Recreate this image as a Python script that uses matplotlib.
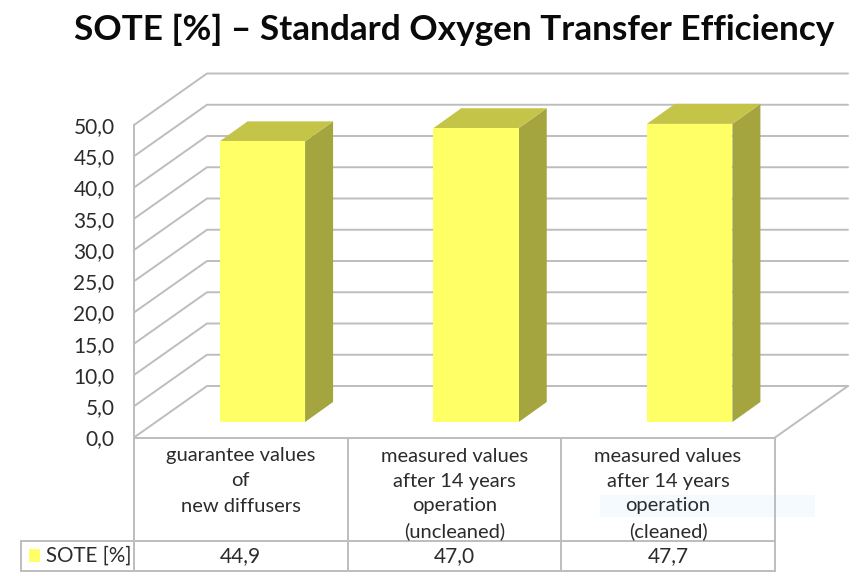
import matplotlib
matplotlib.use("Agg")
import matplotlib.pyplot as plt
from matplotlib.patches import Polygon, Rectangle
from matplotlib.transforms import Affine2D

title = "SOTE [%] – Standard Oxygen Transfer Efficiency"
series_name = "SOTE [%]"
categories = ["guarantee values\nof\nnew diffusers",
              "measured values\nafter 14 years\noperation\n(uncleaned)",
              "measured values\nafter 14 years\noperation\n(cleaned)"]
values = [44.9, 47.0, 47.7]
value_labels = ["44,9", "47,0", "47,7"]
yticks = [0, 5, 10, 15, 20, 25, 30, 35, 40, 45, 50]
ytick_labels = ["0,0", "5,0", "10,0", "15,0", "20,0", "25,0", "30,0", "35,0", "40,0", "45,0", "50,0"]

W, H = 856, 576
GRID = "#bdbdbd"
TXT = "#2b2b2b"
FRONT, TOP, SIDE = "#ffff66", "#c4c448", "#a5a540"
FONT = "Lato"

fig = plt.figure(figsize=(W / 100, H / 100), dpi=100, facecolor="white")
L, R, T, B = 134, 775, 125, 437.5
ax = fig.add_axes([L / W, 1 - B / H, (R - L) / W, (B - T) / H])
ax.set_xlim(0, 3)
ax.set_ylim(0, 50)
ax.patch.set_visible(False)
for s in ax.spines.values():
    s.set_visible(False)
ax.set_xticks([])
ax.set_yticks(yticks, ytick_labels, fontname=FONT, fontsize=15, color=TXT)
ax.tick_params(axis="y", length=0, pad=14)

ux = (R - L) / 3      # px per category
uy = (B - T) / 50     # px per value unit
ddx, ddy = 73 / ux, 51.5 / uy       # wall depth in data units
kw = dict(color=GRID, lw=1.4, clip_on=False, solid_capstyle="round", zorder=1)

for v in yticks:
    ax.plot([0, ddx, 3 + ddx], [v, v + ddy, v + ddy], **kw)
ax.plot([0, 0], [0, 50], **kw)
ax.plot([0, 3], [0, 0], **kw)
ax.plot([3, 3 + ddx], [0, ddy], **kw)

# bars
bw = 85.5 / ux
bdx, bdy = 28 / ux, 20 / uy
ox, oy = 21.5 / ux, 15.5 / uy
for i, v in enumerate(values):
    x0 = i + 0.5 + ox - bw / 2
    x1 = x0 + bw
    y0, y1 = oy, oy + v
    ax.add_patch(Polygon([(x1, y0), (x1 + bdx, y0 + bdy), (x1 + bdx, y1 + bdy), (x1, y1)],
                         fc=SIDE, ec="none", clip_on=False, zorder=3))
    ax.add_patch(Polygon([(x0, y1), (x1, y1), (x1 + bdx, y1 + bdy), (x0 + bdx, y1 + bdy)],
                         fc=TOP, ec="none", clip_on=False, zorder=3))
    ax.add_patch(Polygon([(x0, y0), (x1, y0), (x1, y1), (x0, y1)],
                         fc=FRONT, ec="none", clip_on=False, zorder=4))

# data table in pixel coordinates
px = Affine2D().scale(1, -1).translate(0, H)
tk = dict(transform=px, clip_on=False, color=GRID, lw=1.4, zorder=1)
col_x = [134, 347.5, 561, 775]
Y_AX, Y_ROW, Y_END = 437.5, 541, 571
for x in col_x:
    ax.plot([x, x], [Y_AX, Y_END], **tk)
ax.plot([21, 775], [Y_ROW, Y_ROW], **tk)
ax.plot([21, 775], [Y_END, Y_END], **tk)
ax.plot([21, 21], [Y_ROW, Y_END], **tk)

# faint overlay behind last label
ax.add_patch(Rectangle((600, 495), 215, 22, transform=px, fc="#f5faff", ec="none",
                       clip_on=False, zorder=0))

txt = dict(transform=px, ha="center", va="center", fontname=FONT, fontsize=14.5,
           color=TXT, clip_on=False)
line_ys = [456, 481, 506, 531]
for i, c in enumerate(categories):
    xc = (col_x[i] + col_x[i + 1]) / 2
    for ln, y in zip(c.split("\n"), line_ys):
        ax.text(xc, y, ln, **txt)
    ax.text(xc, 556.5, value_labels[i], **{**txt, "fontsize": 15})

ax.add_patch(Rectangle((29, 549), 11, 13, transform=px, fc=FRONT, ec="none", clip_on=False))
ax.text(46, 555.5, series_name, **{**txt, "ha": "left", "fontsize": 14.8})

fig.text(454.5 / W, 1 - 29.5 / H, title, ha="center", va="center", fontname=FONT,
         fontweight="bold", fontsize=25.3, color="#0a0a0a")

fig.savefig("out.png", dpi=100)
